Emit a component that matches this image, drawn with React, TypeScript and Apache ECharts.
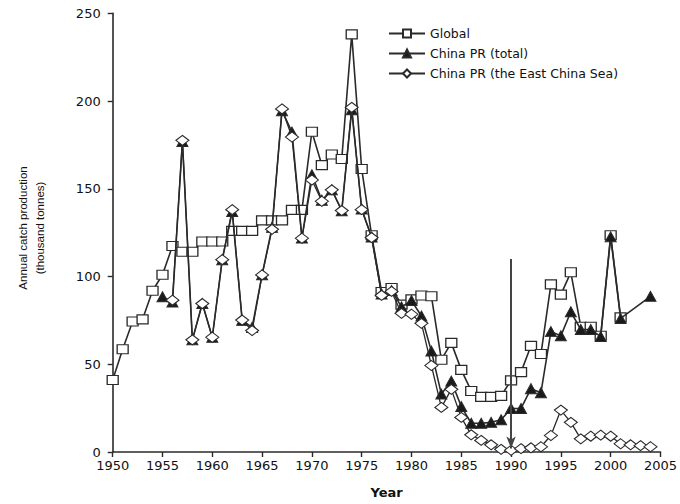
import React, { useEffect, useRef } from "react";
import * as echarts from "echarts";

const globalYears: number[] = Array.from({ length: 52 }, (_, i) => 1950 + i);
const globalVals: number[] = [
  41, 58.6, 74.4, 75.6, 91.9, 101, 117.4, 114.1, 114.1, 120,
  120, 120, 126, 126, 126, 132, 132, 132, 138, 138,
  182.5, 163.5, 169.5, 167, 238, 161.3, 123.5, 91.2, 93.5, 84,
  87, 89.2, 88.8, 52.6, 62.2, 46.8, 34.8, 31.4, 31.4, 32,
  40.8, 45.5, 60.5, 55.8, 95.5, 89.7, 102.4, 71.4, 71.4, 66.2,
  123.5, 76.7,
];

const totalYears: number[] = Array.from({ length: 50 }, (_, i) => 1955 + i);
const totalVals: (number | null)[] = [
  88.5, 85.5, 177, 64, 84.6, 65.4, 109.6, 137, 75, 71,
  101, 128, 194.5, 182.3, 122, 158, 143.5, 149.4, 137.5, 195,
  138.5, 122.5, 90, 92, 82.7, 86.3, 77.5, 57.5, 33, 40.4,
  25.9, 16.4, 16.4, 16.9, 18.4, 24.8, 24.8, 36.1, 33.8, 68.6,
  66.2, 79.9, 69.8, 69.8, 65.8, 122.6, 76.1, null, null, 88.7,
];

const ecsYears: number[] = Array.from({ length: 49 }, (_, i) => 1956 + i);
const ecsVals: number[] = [
  86.5, 177.6, 63.9, 84.6, 65.4, 109.6, 138.1, 75.2, 69.2,
  100.9, 126.9, 195.5, 179.5, 121.8, 155, 142.9, 149.4, 137.6, 196.4,
  138.1, 122.2, 89.3, 91.5, 79, 78.5, 73.3, 49.3, 25.4, 35.7,
  19.7, 9.8, 6.6, 4.1, 1.5, 1, 1.9, 2.4, 3, 9.4,
  23.9, 16.9, 7.5, 9, 9.6, 9, 4.7, 4.1, 3.6, 3,
];

const seriesNames = ["Global", "China PR (total)", "China PR (the East China Sea)"];
const arrowYear = 1990;
const arrowFrom = 110;
const arrowTo = 2;

const pair = (ys: number[], vs: (number | null)[]) => ys.map((y, i) => [y, vs[i]]);

export default function App() {
  const ref = useRef<HTMLDivElement>(null);
  useEffect(() => {
    if (!ref.current) return;
    const chart = echarts.init(ref.current, undefined, { renderer: "svg" });
    const ink = "#2a2a2a";
    const font = "DejaVu Sans";
    chart.setOption({
      animation: false,
      backgroundColor: "#ffffff",
      grid: { left: 112.7, right: 17.3, top: 13.3, bottom: 47.3, containLabel: false },
      legend: {
        orient: "vertical",
        left: 383,
        top: 22,
        itemWidth: 36,
        itemHeight: 10,
        itemGap: 7,
        data: seriesNames,
        textStyle: { fontFamily: font, fontSize: 12.5, color: "#111" },
      },
      xAxis: {
        type: "value",
        min: 1950,
        max: 2005,
        interval: 5,
        name: "Year",
        nameLocation: "middle",
        nameGap: 34,
        nameTextStyle: { fontFamily: font, fontSize: 13, fontWeight: "bold", color: "#111" },
        axisLine: { lineStyle: { color: ink, width: 1.6 } },
        axisTick: { show: true, length: 5, lineStyle: { color: ink, width: 1.4 } },
        axisLabel: {
          fontFamily: font,
          fontSize: 13,
          lineHeight: 12,
          color: "#111",
          margin: 7,
          formatter: (v: number) => String(v),
        },
        splitLine: { show: false },
      },
      yAxis: {
        type: "value",
        min: 0,
        max: 250,
        interval: 50,
        axisLine: { show: true, lineStyle: { color: ink, width: 1.6 } },
        axisTick: { show: true, length: 5, lineStyle: { color: ink, width: 1.4 } },
        axisLabel: { fontFamily: font, fontSize: 13, lineHeight: 12, color: "#111", margin: 12 },
        splitLine: { show: false },
      },
      graphic: [
        {
          type: "text",
          x: 31,
          y: 228,
          rotation: Math.PI / 2,
          style: {
            text: "Annual catch production\n(thousand tonnes)",
            fontFamily: "Liberation Sans",
            fontSize: 11.5,
            lineHeight: 17,
            fill: "#111",
            align: "center",
            verticalAlign: "middle",
          },
        },
      ],
      series: [
        {
          name: seriesNames[0],
          type: "line",
          data: pair(globalYears, globalVals),
          symbol: "rect",
          symbolSize: [11, 9],
          lineStyle: { color: ink, width: 1.6 },
          itemStyle: { color: "#ffffff", borderColor: ink, borderWidth: 1.2 },
          z: 2,
          markLine: {
            silent: true,
            symbol: ["none", "arrow"],
            symbolSize: [7, 12],
            label: { show: false },
            lineStyle: { color: "#444", width: 2, type: "solid" },
            data: [[{ coord: [arrowYear, arrowFrom] }, { coord: [arrowYear, arrowTo] }]],
          },
        },
        {
          name: seriesNames[1],
          type: "line",
          data: pair(totalYears, totalVals),
          connectNulls: true,
          symbol: "triangle",
          symbolSize: [11, 10],
          lineStyle: { color: ink, width: 1.6 },
          itemStyle: { color: "#1a1a1a", borderColor: ink, borderWidth: 1 },
          z: 3,
        },
        {
          name: seriesNames[2],
          type: "line",
          data: pair(ecsYears, ecsVals),
          symbol: "diamond",
          symbolSize: [13, 10],
          lineStyle: { color: ink, width: 1.3 },
          itemStyle: { color: "#ffffff", borderColor: ink, borderWidth: 1.1 },
          z: 4,
        },
      ],
    });
    return () => chart.dispose();
  }, []);
  return (
    <div
      ref={ref}
      style={{ position: "fixed", left: 0, top: 0, width: 680, height: 504 }}
    />
  );
}
